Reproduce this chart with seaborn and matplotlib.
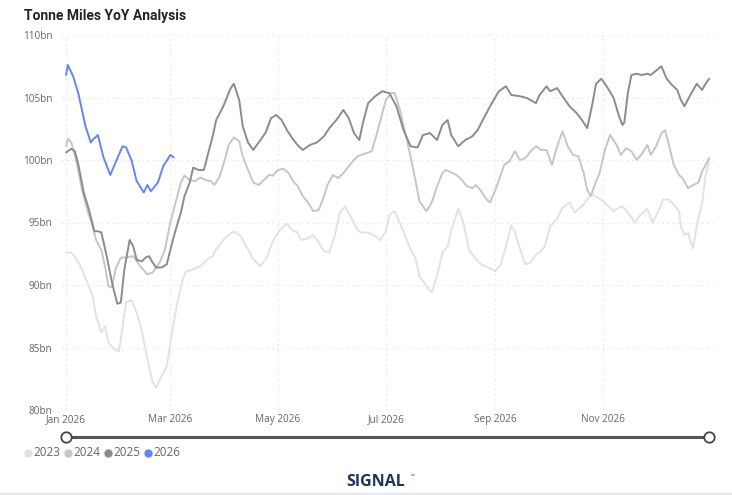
import pandas as pd
import seaborn as sns
import matplotlib.pyplot as plt
import matplotlib.dates as mdates
from matplotlib.lines import Line2D

# 1. Dados (dia do ano a partir de 1 jan, valor em bn)
days_2023 = [0, 3, 6, 9, 12, 15, 17, 20, 22, 24, 27, 30, 32, 34, 37, 40, 43, 46, 49, 51, 54, 57, 60,
             63, 66, 68, 72, 76, 80, 83, 85, 89, 92, 95, 99, 102, 106, 110, 114, 117, 121, 125, 128,
             131, 133, 137, 140, 143, 146, 149, 152, 155, 158, 161, 165, 167, 171, 175, 178, 181,
             183, 186, 189, 192, 195, 198, 200, 204, 207, 210, 213, 216, 218, 222, 225, 228, 232,
             235, 239, 243, 246, 249, 252, 254, 257, 260, 263, 266, 268, 271, 274, 278, 281, 285,
             288, 290, 293, 297, 300, 304, 307, 310, 313, 315, 318, 322, 325, 329, 332, 335, 338,
             341, 344, 347, 348, 350, 352, 355, 357, 360, 362, 364]
tm_2023 = [92.6, 92.6, 92.05, 91.25, 90.2, 89.1, 87.5, 86.2, 86.7, 85.4, 84.9, 84.7, 86.7, 88.6, 88.8,
           87.8, 86.2, 84.1, 82.2, 81.8, 82.7, 83.5, 86.2, 88.6, 90.45, 91.1, 91.25, 91.5, 92.05,
           92.3, 92.85, 93.6, 94.0, 94.3, 93.9, 93.1, 92.05, 91.5, 92.3, 93.5, 94.4, 94.9, 94.4,
           94.2, 93.6, 93.75, 94.0, 93.4, 92.7, 92.6, 93.9, 95.8, 96.3, 95.5, 94.4, 94.2, 94.2,
           93.9, 93.6, 94.3, 95.6, 95.9, 94.95, 93.9, 92.85, 92.05, 90.7, 89.9, 89.4, 90.7, 92.6,
           93.1, 94.3, 96.1, 94.95, 92.85, 92.05, 91.65, 91.4, 91.1, 91.65, 93.1, 94.75, 94.3,
           92.85, 91.65, 91.8, 92.45, 92.6, 93.1, 94.7, 95.3, 96.2, 96.6, 95.8, 96.05, 96.45, 97.25,
           97.1, 96.7, 96.3, 95.9, 96.2, 96.3, 95.8, 95.0, 95.6, 96.1, 95.0, 95.8, 96.85, 96.85,
           96.45, 95.9, 94.7, 94.0, 94.15, 92.95, 94.7, 96.6, 98.7, 100.0]

days_2024 = [0, 1, 3, 6, 9, 12, 15, 17, 20, 22, 24, 26, 28, 31, 34, 38, 42, 46, 49, 53, 56, 59, 62,
             65, 67, 70, 73, 76, 79, 82, 84, 87, 90, 92, 95, 98, 100, 103, 106, 109, 112, 115, 117,
             120, 123, 126, 129, 131, 134, 137, 140, 143, 146, 148, 151, 154, 157, 160, 163, 165,
             169, 173, 176, 179, 181, 184, 186, 189, 192, 195, 198, 200, 204, 207, 210, 213, 215,
             218, 221, 224, 227, 230, 232, 235, 238, 240, 243, 246, 248, 251, 254, 257, 260, 263,
             266, 269, 272, 275, 278, 281, 284, 287, 290, 293, 295, 297, 299, 302, 305, 308, 312,
             314, 317, 320, 323, 326, 329, 331, 334, 337, 339, 341, 344, 347, 349, 352, 355, 358,
             360, 362, 364]
tm_2024 = [101.1, 101.7, 101.4, 99.8, 97.6, 96.0, 94.7, 93.6, 92.8, 91.5, 89.9, 89.8, 91.25, 92.2,
           92.2, 92.3, 91.5, 90.85, 91.0, 91.8, 92.85, 95.0, 96.6, 98.2, 98.75, 98.4, 98.3, 98.6,
           98.4, 98.3, 98.0, 98.7, 100.1, 101.2, 101.8, 101.5, 100.3, 99.2, 98.2, 98.0, 98.4, 98.8,
           98.75, 99.2, 99.3, 98.95, 98.2, 97.95, 97.1, 96.6, 95.9, 96.0, 97.1, 98.0, 98.8, 98.55,
           98.95, 99.5, 100.0, 100.3, 100.5, 100.7, 102.15, 103.75, 104.8, 105.35, 105.35, 104.0,
           102.15, 100.3, 98.2, 96.7, 95.9, 96.6, 97.9, 98.95, 99.2, 99.0, 98.8, 98.4, 97.9, 97.75,
           98.0, 97.5, 96.85, 96.6, 97.6, 98.8, 99.6, 99.9, 100.7, 100.0, 100.15, 100.7, 101.1,
           100.8, 100.8, 99.6, 101.1, 102.3, 101.1, 100.4, 100.3, 98.95, 97.6, 97.1, 97.9, 98.95,
           100.8, 102.0, 101.1, 100.4, 100.95, 100.7, 100.0, 100.5, 101.2, 100.4, 101.1, 102.15,
           102.4, 101.35, 99.6, 98.8, 98.55, 97.75, 98.0, 98.2, 99.1, 99.6, 100.15]

days_2025 = [0, 3, 5, 7, 10, 13, 16, 18, 20, 23, 26, 29, 31, 33, 36, 38, 40, 43, 45, 47, 49, 51, 54,
             57, 59, 62, 65, 67, 70, 72, 75, 78, 80, 83, 85, 89, 93, 95, 98, 100, 103, 106, 109,
             113, 116, 119, 122, 125, 128, 131, 134, 138, 142, 146, 149, 153, 157, 160, 163, 166,
             168, 171, 175, 179, 183, 187, 191, 195, 199, 202, 206, 210, 213, 216, 218, 222, 226,
             230, 233, 237, 241, 245, 249, 252, 257, 261, 266, 268, 272, 274, 278, 281, 285, 289,
             292, 295, 298, 300, 303, 306, 310, 313, 315, 316, 318, 320, 323, 326, 329, 331, 334,
             337, 340, 343, 346, 348, 350, 353, 357, 360, 362, 364]
tm_2025 = [100.6, 100.9, 100.7, 99.6, 97.4, 96.0, 94.3, 94.3, 94.2, 92.3, 90.2, 88.5, 88.6, 91.25,
           93.6, 93.1, 92.0, 91.9, 92.2, 92.3, 91.8, 91.4, 91.4, 91.65, 92.8, 94.4, 95.8, 97.1,
           98.2, 99.4, 99.2, 99.2, 100.3, 101.9, 103.2, 104.3, 105.7, 106.1, 104.8, 102.7, 101.4,
           100.8, 101.4, 102.2, 103.35, 103.6, 103.2, 102.4, 101.75, 101.2, 100.8, 101.2, 101.4,
           101.9, 102.55, 103.2, 104.0, 103.35, 102.15, 101.6, 102.95, 104.55, 105.1, 105.5, 105.35,
           104.3, 102.4, 101.1, 101.0, 102.0, 102.15, 101.6, 102.8, 103.2, 102.0, 101.1, 101.6,
           101.9, 102.4, 103.5, 104.55, 105.5, 105.9, 105.2, 105.1, 104.95, 104.55, 105.2, 105.9,
           105.5, 105.75, 105.1, 104.3, 103.75, 103.2, 102.55, 104.55, 106.1, 106.5, 105.9, 104.95,
           103.5, 102.8, 103.0, 105.35, 106.8, 106.9, 106.8, 106.9, 106.8, 107.15, 107.5, 106.5,
           106.0, 105.6, 104.8, 104.3, 105.1, 106.1, 105.6, 106.1, 106.5]

days_2026 = [0, 1, 4, 7, 9, 11, 14, 15, 18, 21, 25, 28, 32, 34, 37, 40, 44, 46, 48, 52, 55, 59, 61]
tm_2026 = [106.8, 107.6, 106.7, 105.3, 104.0, 102.7, 101.4, 101.6, 102.0, 100.3, 98.8, 99.8, 101.1,
           101.0, 100.0, 98.3, 97.4, 98.0, 97.5, 98.2, 99.5, 100.4, 100.2]

years = ["2023", "2024", "2025", "2026"]
cores = {"2023": "#E2E2E2", "2024": "#C6C6C6", "2025": "#8C8C8C", "2026": "#6485F7"}
x_ticks = ["2026-01-01", "2026-03-01", "2026-05-01", "2026-07-01", "2026-09-01", "2026-11-01"]
y_ticks = [80, 85, 90, 95, 100, 105, 110]

# 2. Montar o DataFrame em formato longo
partes = []
for ano, dias, vals in [("2023", days_2023, tm_2023), ("2024", days_2024, tm_2024),
                        ("2025", days_2025, tm_2025), ("2026", days_2026, tm_2026)]:
    partes.append(pd.DataFrame({
        "data": pd.Timestamp("2026-01-01") + pd.to_timedelta(dias, unit="D"),
        "valor": vals,
        "ano": ano,
    }))
df = pd.concat(partes, ignore_index=True)

# 3. Figura
sns.set_style("white")
plt.rcParams["font.family"] = ["Open Sans", "DejaVu Sans"]

fig = plt.figure(figsize=(7.32, 4.95), dpi=100)
ax = fig.add_axes([62 / 732, 1 - 410 / 495, (713 - 62) / 732, 375 / 495])

sns.lineplot(data=df, x="data", y="valor", hue="ano", hue_order=years,
             palette=cores, linewidth=1.4, legend=False, ax=ax, estimator=None)

inicio = pd.Timestamp("2026-01-01")
ax.set_xlim(inicio - pd.Timedelta(days=2.3), inicio + pd.Timedelta(days=366.2))
ax.set_ylim(80, 110)
ax.set_yticks(y_ticks)
ax.set_yticklabels([f"{v}bn" for v in y_ticks])
ax.set_xticks(pd.to_datetime(x_ticks))
ax.xaxis.set_major_formatter(mdates.DateFormatter("%b %Y"))
ax.set_xlabel("")
ax.set_ylabel("")
ax.grid(True, linestyle=(0, (1, 3)), color="#E0E0E0", linewidth=0.9)
ax.tick_params(axis="y", length=0, pad=7, labelsize=7.2, labelcolor="#666666")
ax.tick_params(axis="x", length=0, pad=3, labelsize=7.2, labelcolor="#666666")
sns.despine(ax=ax, left=True, bottom=True)

# 4. Título
fig.text(24 / 732, 1 - 16 / 495, "Tonne Miles YoY Analysis", fontsize=10,
         fontweight="bold", color="#252423", va="center", ha="left",
         family=["Roboto", "DejaVu Sans"])

# 5. Barra deslizante (slider) abaixo do eixo
slider = fig.add_axes([62 / 732, 1 - 442 / 495, (713 - 62) / 732, 10 / 495])
slider.set_xlim(ax.get_xlim())
slider.set_ylim(-1, 1)
slider.axis("off")
fim = pd.Timestamp("2026-12-31")
slider.plot([inicio, fim], [0, 0], color="#555555", linewidth=2.2, solid_capstyle="butt")
slider.plot([inicio, fim], [0, 0], linestyle="none", marker="o", markersize=7.5,
            markerfacecolor="white", markeredgecolor="#444444", markeredgewidth=1.3,
            clip_on=False)

# 6. Legenda manual
y_leg = 1 - 453 / 495
for i, ano in enumerate(years):
    x0 = (28 + 40 * i) / 732
    fig.add_artist(Line2D([x0], [y_leg], marker="o", markersize=5, linestyle="none",
                          color=cores[ano], transform=fig.transFigure))
    fig.text(x0 + 5 / 732, y_leg, ano, fontsize=8.4, color="#666666",
             va="center", ha="left")

# 7. Logo
fig.text(376 / 732, 1 - 482 / 495, "SIGNAL", fontsize=11.5, color="#1C355E",
         ha="center", va="center", fontweight="bold")
fig.text(411 / 732, 1 - 476 / 495, "™", fontsize=3.5, color="#1C355E",
         ha="left", va="center")
fig.add_artist(plt.Rectangle((0, 0), 1, 2 / 495, transform=fig.transFigure,
                             color="#E6E6EE", linewidth=0))

plt.savefig("out.png", dpi=100)
